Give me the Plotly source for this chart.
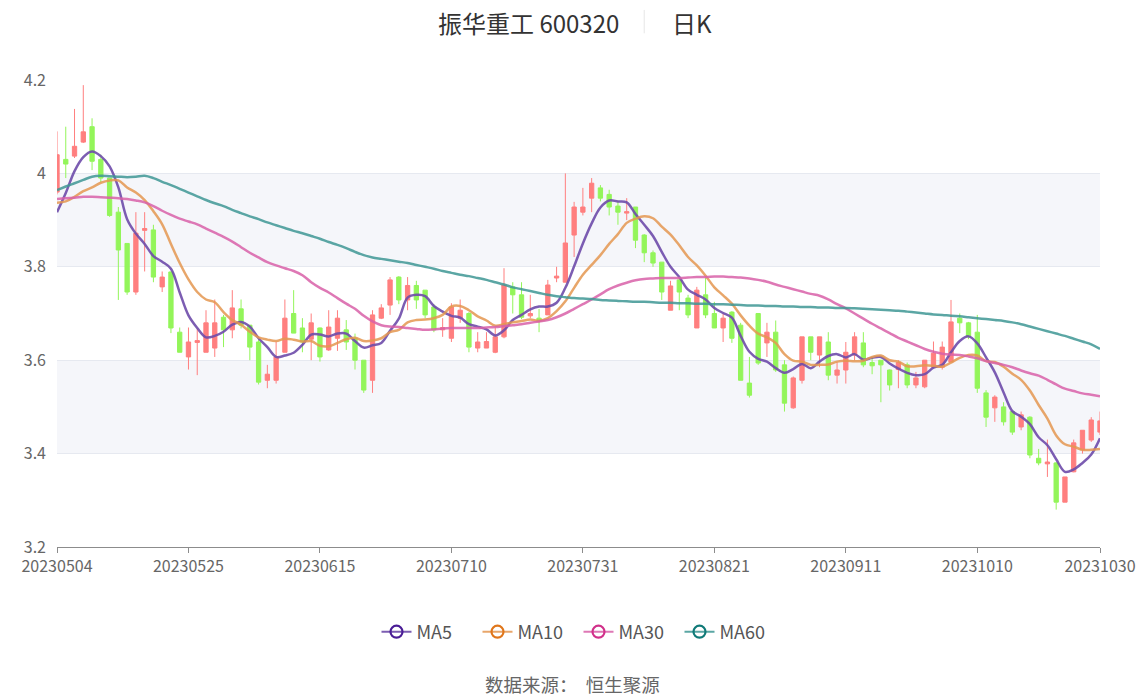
import plotly.graph_objects as go

# trading days 2023-05-04 .. 2023-10-30
days = {
    "202305": [4, 5, 8, 9, 10, 11, 12, 15, 16, 17, 18, 19, 22, 23, 24, 25, 26, 29, 30, 31],
    "202306": [1, 2, 5, 6, 7, 8, 9, 12, 13, 14, 15, 16, 19, 20, 21, 26, 27, 28, 29, 30],
    "202307": [3, 4, 5, 6, 7, 10, 11, 12, 13, 14, 17, 18, 19, 20, 21, 24, 25, 26, 27, 28, 31],
    "202308": [1, 2, 3, 4, 7, 8, 9, 10, 11, 14, 15, 16, 17, 18, 21, 22, 23, 24, 25, 28, 29, 30, 31],
    "202309": [1, 4, 5, 6, 7, 8, 11, 12, 13, 14, 15, 18, 19, 20, 21, 22, 25, 26, 27, 28],
    "202310": [9, 10, 11, 12, 13, 16, 17, 18, 19, 20, 23, 24, 25, 26, 27, 30],
}
dates = [m + "%02d" % d for m, ds in days.items() for d in ds]

open_ = [3.96, 4.03, 4.037, 4.067, 4.10, 4.03, 3.99, 3.917, 3.85, 3.746,
         3.878, 3.879, 3.757, 3.789, 3.66, 3.607, 3.638, 3.617, 3.626, 3.692,
         3.665, 3.71, 3.675, 3.639, 3.557, 3.557, 3.617, 3.70, 3.669, 3.645,
         3.669, 3.622, 3.647, 3.665, 3.647, 3.60, 3.557, 3.69, 3.718, 3.778,
         3.729, 3.76, 3.75, 3.714, 3.665, 3.647, 3.69, 3.70, 3.626, 3.626,
         3.617, 3.65, 3.757, 3.74, 3.695, 3.69, 3.697, 3.776, 3.767, 3.868,
         3.917, 3.947, 3.969, 3.955, 3.93, 3.915, 3.928, 3.868, 3.83, 3.81,
         3.707, 3.772, 3.733, 3.669, 3.74, 3.70, 3.669, 3.703, 3.675, 3.551,
         3.70, 3.637, 3.66, 3.59, 3.498, 3.557, 3.65, 3.611, 3.639, 3.568,
         3.579, 3.611, 3.637, 3.595, 3.60, 3.579, 3.58, 3.59, 3.547, 3.543,
         3.585, 3.585, 3.596, 3.69, 3.68, 3.66, 3.53, 3.498, 3.50, 3.49,
         3.457, 3.478, 3.39, 3.378, 3.38, 3.296, 3.361, 3.408, 3.429, 3.446]
high = [4.09, 4.10, 4.138, 4.189, 4.118, 4.04, 3.99, 3.928, 3.85, 3.917,
        3.917, 3.89, 3.79, 3.79, 3.67, 3.67, 3.668, 3.707, 3.73, 3.697,
        3.75, 3.73, 3.675, 3.645, 3.59, 3.64, 3.73, 3.75, 3.69, 3.70,
        3.67, 3.707, 3.707, 3.686, 3.657, 3.60, 3.707, 3.72, 3.778, 3.78,
        3.778, 3.77, 3.75, 3.72, 3.69, 3.722, 3.73, 3.703, 3.66, 3.66,
        3.67, 3.797, 3.767, 3.767, 3.74, 3.71, 3.772, 3.80, 4.0, 3.939,
        3.969, 3.99, 3.975, 3.965, 3.94, 3.947, 3.928, 3.87, 3.835, 3.81,
        3.77, 3.776, 3.74, 3.757, 3.776, 3.725, 3.70, 3.705, 3.68, 3.607,
        3.70, 3.68, 3.685, 3.60, 3.565, 3.65, 3.65, 3.65, 3.66, 3.596,
        3.639, 3.66, 3.66, 3.605, 3.60, 3.58, 3.60, 3.595, 3.575, 3.60,
        3.64, 3.64, 3.729, 3.70, 3.682, 3.697, 3.536, 3.525, 3.51, 3.49,
        3.49, 3.48, 3.41, 3.43, 3.382, 3.35, 3.43, 3.45, 3.478, 3.49]
low = [3.955, 3.99, 4.033, 4.065, 4.007, 3.98, 3.907, 3.729, 3.74, 3.74,
       3.79, 3.767, 3.746, 3.658, 3.617, 3.58, 3.568, 3.617, 3.607, 3.628,
       3.647, 3.668, 3.60, 3.548, 3.54, 3.55, 3.617, 3.658, 3.617, 3.60,
       3.597, 3.62, 3.62, 3.622, 3.58, 3.53, 3.53, 3.688, 3.697, 3.72,
       3.707, 3.71, 3.69, 3.66, 3.65, 3.639, 3.68, 3.617, 3.617, 3.626,
       3.615, 3.647, 3.70, 3.688, 3.69, 3.66, 3.697, 3.767, 3.767, 3.821,
       3.91, 3.917, 3.94, 3.91, 3.89, 3.90, 3.84, 3.81, 3.80, 3.729,
       3.707, 3.707, 3.69, 3.669, 3.69, 3.669, 3.639, 3.637, 3.557, 3.52,
       3.59, 3.607, 3.575, 3.49, 3.496, 3.55, 3.60, 3.585, 3.557, 3.55,
       3.55, 3.60, 3.585, 3.57, 3.51, 3.535, 3.54, 3.54, 3.54, 3.54,
       3.585, 3.58, 3.596, 3.658, 3.645, 3.53, 3.457, 3.468, 3.46, 3.44,
       3.45, 3.39, 3.375, 3.35, 3.28, 3.296, 3.36, 3.40, 3.425, 3.44]
close = [4.04, 4.02, 4.058, 4.089, 4.026, 3.99, 3.91, 3.836, 3.746, 3.872,
         3.882, 3.778, 3.778, 3.669, 3.617, 3.639, 3.642, 3.68, 3.68, 3.665,
         3.712, 3.675, 3.628, 3.553, 3.57, 3.607, 3.69, 3.658, 3.639, 3.68,
         3.607, 3.671, 3.69, 3.639, 3.60, 3.536, 3.697, 3.712, 3.772, 3.729,
         3.76, 3.729, 3.697, 3.665, 3.67, 3.714, 3.707, 3.628, 3.639, 3.64,
         3.65, 3.761, 3.74, 3.692, 3.70, 3.684, 3.761, 3.78, 3.851, 3.928,
         3.928, 3.979, 3.947, 3.928, 3.917, 3.918, 3.857, 3.83, 3.808, 3.746,
         3.759, 3.746, 3.697, 3.75, 3.697, 3.669, 3.69, 3.647, 3.557, 3.525,
         3.594, 3.66, 3.579, 3.508, 3.562, 3.65, 3.617, 3.65, 3.568, 3.579,
         3.617, 3.65, 3.59, 3.588, 3.59, 3.547, 3.595, 3.547, 3.562, 3.60,
         3.615, 3.628, 3.682, 3.68, 3.65, 3.54, 3.478, 3.521, 3.468, 3.446,
         3.483, 3.397, 3.38, 3.382, 3.296, 3.35, 3.423, 3.45, 3.472, 3.47]

ma5 = [3.917, 3.958, 4.005, 4.035, 4.047, 4.037, 4.015, 3.970, 3.902, 3.871,
       3.849, 3.823, 3.811, 3.796, 3.745, 3.696, 3.669, 3.649, 3.652, 3.661,
       3.676, 3.682, 3.672, 3.647, 3.628, 3.607, 3.610, 3.616, 3.633, 3.655,
       3.655, 3.651, 3.657, 3.657, 3.641, 3.627, 3.632, 3.637, 3.663, 3.689,
       3.734, 3.740, 3.737, 3.716, 3.704, 3.695, 3.691, 3.677, 3.672, 3.666,
       3.653, 3.664, 3.686, 3.697, 3.709, 3.715, 3.715, 3.723, 3.755, 3.801,
       3.850, 3.893, 3.927, 3.942, 3.940, 3.938, 3.913, 3.890, 3.866, 3.832,
       3.800, 3.778, 3.751, 3.740, 3.730, 3.712, 3.701, 3.691, 3.652, 3.618,
       3.603, 3.597, 3.583, 3.573, 3.581, 3.592, 3.583, 3.597, 3.609, 3.613,
       3.606, 3.613, 3.601, 3.605, 3.607, 3.593, 3.582, 3.573, 3.568, 3.570,
       3.584, 3.590, 3.617, 3.641, 3.651, 3.636, 3.606, 3.574, 3.531, 3.491,
       3.479, 3.463, 3.435, 3.418, 3.388, 3.361, 3.366, 3.380, 3.398, 3.433]
ma10 = [3.937, 3.940, 3.950, 3.962, 3.970, 3.980, 3.985, 3.985, 3.970, 3.959,
        3.943, 3.919, 3.891, 3.849, 3.808, 3.773, 3.746, 3.730, 3.724, 3.703,
        3.686, 3.676, 3.661, 3.649, 3.644, 3.641, 3.646, 3.644, 3.640, 3.641,
        3.631, 3.630, 3.637, 3.645, 3.648, 3.641, 3.642, 3.647, 3.660, 3.665,
        3.681, 3.686, 3.687, 3.690, 3.697, 3.715, 3.716, 3.707, 3.694, 3.685,
        3.674, 3.677, 3.681, 3.684, 3.687, 3.684, 3.690, 3.705, 3.726, 3.755,
        3.783, 3.804, 3.825, 3.849, 3.870, 3.894, 3.903, 3.908, 3.904, 3.886,
        3.869, 3.846, 3.821, 3.803, 3.781, 3.756, 3.739, 3.721, 3.696, 3.674,
        3.657, 3.649, 3.637, 3.613, 3.599, 3.597, 3.590, 3.590, 3.591, 3.597,
        3.599, 3.598, 3.599, 3.607, 3.610, 3.600, 3.597, 3.587, 3.587, 3.589,
        3.588, 3.586, 3.595, 3.605, 3.611, 3.610, 3.598, 3.596, 3.586, 3.571,
        3.558, 3.535, 3.504, 3.475, 3.439, 3.420, 3.415, 3.408, 3.408, 3.410]
ma30 = [3.945, 3.947, 3.948, 3.950, 3.950, 3.949, 3.948, 3.947, 3.945, 3.942,
        3.938, 3.930, 3.920, 3.911, 3.903, 3.897, 3.891, 3.882, 3.873, 3.864,
        3.854, 3.842, 3.830, 3.820, 3.810, 3.803, 3.797, 3.791, 3.782, 3.767,
        3.755, 3.745, 3.733, 3.721, 3.710, 3.695, 3.683, 3.675, 3.672, 3.671,
        3.669, 3.667, 3.665, 3.666, 3.668, 3.669, 3.669, 3.669, 3.669, 3.670,
        3.671, 3.673, 3.675, 3.677, 3.680, 3.683, 3.686, 3.692, 3.700, 3.710,
        3.720, 3.730, 3.741, 3.752, 3.760, 3.766, 3.771, 3.774, 3.775, 3.776,
        3.776, 3.776, 3.777, 3.778, 3.778, 3.779, 3.779, 3.778, 3.777, 3.775,
        3.772, 3.768, 3.762, 3.757, 3.752, 3.747, 3.742, 3.738, 3.730, 3.720,
        3.711, 3.700, 3.689, 3.678, 3.668, 3.658, 3.648, 3.640, 3.632, 3.624,
        3.618, 3.614, 3.612, 3.611, 3.608, 3.604, 3.598, 3.594, 3.590, 3.585,
        3.578, 3.572, 3.567, 3.558, 3.548, 3.539, 3.534, 3.529, 3.526, 3.523]
ma60 = [3.964, 3.972, 3.979, 3.986, 3.993, 3.995, 3.994, 3.993, 3.992, 3.993,
        3.995, 3.990, 3.982, 3.975, 3.967, 3.959, 3.951, 3.943, 3.936, 3.930,
        3.922, 3.915, 3.908, 3.902, 3.895, 3.889, 3.883, 3.877, 3.872, 3.866,
        3.860, 3.853, 3.847, 3.840, 3.832, 3.825, 3.820, 3.817, 3.814, 3.811,
        3.808, 3.804, 3.800, 3.796, 3.791, 3.787, 3.783, 3.780, 3.776, 3.772,
        3.767, 3.762, 3.756, 3.752, 3.748, 3.744, 3.740, 3.737, 3.735, 3.733,
        3.732, 3.731, 3.729, 3.728, 3.727, 3.726, 3.725, 3.725, 3.724, 3.723,
        3.723, 3.722, 3.722, 3.721, 3.721, 3.720, 3.720, 3.719, 3.718, 3.717,
        3.717, 3.716, 3.716, 3.715, 3.715, 3.714, 3.714, 3.713, 3.713, 3.712,
        3.712, 3.711, 3.710, 3.709, 3.708, 3.707, 3.706, 3.704, 3.702, 3.700,
        3.698, 3.697, 3.695, 3.694, 3.692, 3.690, 3.688, 3.686, 3.684, 3.681,
        3.677, 3.672, 3.667, 3.662, 3.657, 3.652, 3.646, 3.640, 3.634, 3.624]

tick_dates = ["20230504", "20230525", "20230615", "20230710", "20230731",
              "20230821", "20230911", "20231010", "20231030"]
y_ticks = [3.2, 3.4, 3.6, 3.8, 4.0, 4.2]
y_labels = ["3.2", "3.4", "3.6", "3.8", "4", "4.2"]

ma_series = [
    ("MA5", ma5, "rgba(110,75,170,0.9)", "#4a1d96"),
    ("MA10", ma10, "rgba(228,150,80,0.85)", "#e0761b"),
    ("MA30", ma30, "rgba(216,96,168,0.85)", "#d1308a"),
    ("MA60", ma60, "rgba(62,150,148,0.85)", "#107a78"),
]

fig = go.Figure()

# 交替底色
for lo, hi in [(3.4, 3.6), (3.8, 4.0)]:
    fig.add_shape(type="rect", xref="paper", yref="y", x0=0, x1=1, y0=lo, y1=hi,
                  fillcolor="#f5f6fa", line_width=0, layer="below")

fig.add_trace(go.Candlestick(
    x=dates, open=open_, high=high, low=low, close=close,
    increasing=dict(line=dict(color="#ff7f7f", width=1), fillcolor="#ff7f7f"),
    decreasing=dict(line=dict(color="#93f55a", width=1), fillcolor="#93f55a"),
    whiskerwidth=0, showlegend=False, hoverinfo="skip"))

for name, vals, col, dark in ma_series:
    fig.add_trace(go.Scatter(x=dates, y=vals, mode="lines", name=name,
                             line=dict(color=col, width=2.5, shape="spline", smoothing=1),
                             showlegend=False, hoverinfo="skip"))
for name, vals, col, dark in ma_series:
    # 图例用
    fig.add_trace(go.Scatter(x=[None], y=[None], mode="lines+markers", name=name,
                             line=dict(color=col, width=2),
                             marker=dict(symbol="circle-open", size=12, color=dark,
                                         line=dict(width=2.2, color=dark))))

fig.add_annotation(text="振华重工 600320", xref="paper", yref="paper", x=0.452, y=1.124,
                   xanchor="center", yanchor="middle", showarrow=False,
                   font=dict(size=24, color="#333333"))
fig.add_annotation(text="日K", xref="paper", yref="paper", x=0.609, y=1.124,
                   xanchor="center", yanchor="middle", showarrow=False,
                   font=dict(size=24, color="#333333"))
fig.add_shape(type="line", xref="paper", yref="paper", x0=0.563, x1=0.563,
              y0=1.10, y1=1.15, line=dict(color="#e6e6e6", width=1))
fig.add_annotation(text="数据来源：  恒生聚源", xref="paper", yref="paper", x=0.494, y=-0.293,
                   xanchor="center", yanchor="middle", showarrow=False,
                   font=dict(size=18.5, color="#666666"))

fig.update_layout(
    width=1148, height=699,
    margin=dict(l=57, r=42, t=80, b=152),
    paper_bgcolor="white", plot_bgcolor="white",
    font=dict(family="Noto Sans CJK SC, Noto Sans, sans-serif", color="#666666"),
    showlegend=True,
    legend=dict(orientation="h", x=0.5, xanchor="center", y=-0.182, yanchor="middle",
                font=dict(size=18, color="#555555"), entrywidth=56, itemwidth=30),
    xaxis=dict(type="category", range=[0, len(dates) - 1], rangeslider=dict(visible=False),
               tickmode="array", tickvals=tick_dates, ticktext=tick_dates,
               showgrid=False, showline=True, linecolor="#8c8c8c", linewidth=1,
               ticks="outside", ticklen=5, tickcolor="#8c8c8c",
               tickfont=dict(size=16, color="#666666")),
    yaxis=dict(range=[3.2, 4.2], tickmode="array", tickvals=y_ticks, ticktext=y_labels,
               showgrid=True, gridcolor="#e6e9f0", gridwidth=1, zeroline=False,
               showline=False, ticks="", ticklabelstandoff=10,
               tickfont=dict(size=16, color="#666666")),
)

# 去掉页面默认的 8px 边距, 不显示工具栏
fig.write_html("out.html", config={"displayModeBar": False},
               post_script="document.body.style.margin='0';")
